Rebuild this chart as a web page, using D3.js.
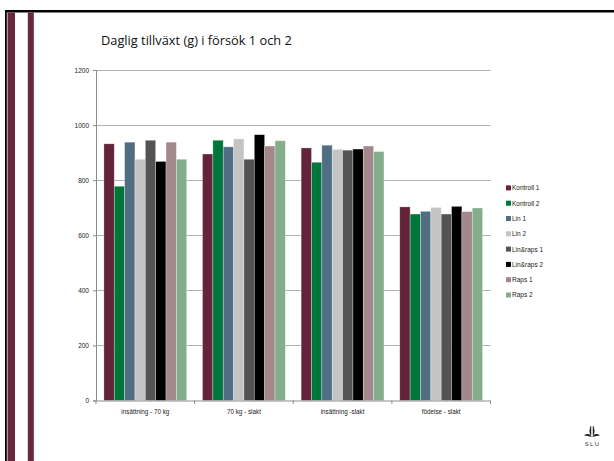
<!DOCTYPE html>
<html><head><meta charset="utf-8">
<script src="https://cdn.jsdelivr.net/npm/d3@7"></script>
<style>
html,body{margin:0;padding:0;background:#fff;}
svg{display:block;font-family:"Liberation Sans","DejaVu Sans",sans-serif;}
</style></head>
<body>
<script>
const categories = ["insättning - 70 kg", "70 kg - slakt", "insättning -slakt", "födelse - slakt"];
const seriesNames = ["Kontroll 1", "Kontroll 2", "Lin 1", "Lin 2", "Lin&raps 1", "Lin&raps 2", "Raps 1", "Raps 2"];
const seriesColors = ["#632339", "#00773A", "#4F6E84", "#C4C4C4", "#535353", "#000000", "#A4878A", "#84AE8B"];
const kontroll1 = [932, 895, 917, 703];
const kontroll2 = [778, 945, 865, 677];
const lin1 = [938, 921, 927, 687];
const lin2 = [876, 950, 912, 701];
const linraps1 = [945, 876, 909, 677];
const linraps2 = [868, 965, 913, 705];
const raps1 = [938, 924, 924, 686];
const raps2 = [876, 943, 904, 699];
const yTicks = [0, 200, 400, 600, 800, 1000, 1200];
const title = "Daglig tillväxt (g) i försök 1 och 2";

const seriesValues = [kontroll1, kontroll2, lin1, lin2, linraps1, linraps2, raps1, raps2];

const W = 614, H = 461;
const svg = d3.select("body").append("svg").attr("width", W).attr("height", H);

// slide decorations
const maroon = "#6B263F";
svg.append("rect").attr("x", 5).attr("y", 10).attr("width", W - 5).attr("height", 2.5).attr("fill", "#000");
svg.append("rect").attr("x", 5).attr("y", 10).attr("width", 1.8).attr("height", H - 10).attr("fill", "#000");
svg.append("rect").attr("x", 7.5).attr("y", 12.5).attr("width", 7.5).attr("height", H).attr("fill", maroon);
svg.append("rect").attr("x", 27.8).attr("y", 12.5).attr("width", 6).attr("height", H).attr("fill", maroon);

// title
svg.append("text").attr("x", 101).attr("y", 45).attr("font-size", 12.8).attr("fill", "#111")
  .attr("font-family", "'Open Sans','Liberation Sans',sans-serif")
  .text(title);

const pLeft = 96, pRight = 490.5, pTop = 70, pBottom = 400.5;
const y = d3.scaleLinear().domain([0, 1200]).range([pBottom, pTop]);
const x0 = d3.scaleBand().domain(categories).range([pLeft, pRight]);
const gapFrac = 0.08;
const x1 = d3.scaleBand().domain(seriesNames)
  .range([x0.bandwidth() * gapFrac, x0.bandwidth() * (1 - gapFrac)]);

// gridlines
svg.append("g").selectAll("line").data(yTicks.filter(d => d > 0)).join("line")
  .attr("x1", pLeft).attr("x2", pRight)
  .attr("y1", d => Math.round(y(d)) + 0.5).attr("y2", d => Math.round(y(d)) + 0.5)
  .attr("stroke", "#b3b3b3").attr("stroke-width", 1);

// bars
const groups = svg.append("g").selectAll("g").data(categories).join("g")
  .attr("transform", c => `translate(${x0(c)},0)`);
groups.selectAll("rect").data((c, ci) => seriesNames.map((s, si) => ({s, si, v: seriesValues[si][ci]})))
  .join("rect")
  .attr("x", d => x1(d.s)).attr("width", x1.bandwidth())
  .attr("y", d => y(d.v)).attr("height", d => y(0) - y(d.v))
  .attr("fill", d => seriesColors[d.si])
  .attr("stroke", "rgba(255,255,255,0.5)").attr("stroke-width", 0.6);

// y axis
const yAxis = d3.axisLeft(y).tickValues(yTicks).tickFormat(d3.format("d")).tickSize(3).tickPadding(4);
const gy = svg.append("g").attr("transform", `translate(${pLeft},0)`).call(yAxis);
gy.select(".domain").attr("stroke", "#8c8c8c");
gy.selectAll(".tick line").attr("stroke", "#8c8c8c");
gy.selectAll(".tick text").attr("font-size", 6.5).attr("fill", "#222").attr("font-family", "'Liberation Sans',sans-serif");

// x axis
const gx = svg.append("g").attr("transform", `translate(0,${pBottom})`)
  .call(d3.axisBottom(x0).tickSize(0).tickPadding(9));
gx.select(".domain").attr("stroke", "#8c8c8c");
gx.selectAll(".tick text").attr("font-size", 6.3).attr("fill", "#222");
// category separator ticks
const sepPos = categories.map(c => x0(c)).concat([pRight]);
svg.append("g").selectAll("line").data(sepPos).join("line")
  .attr("x1", d => d).attr("x2", d => d).attr("y1", pBottom).attr("y2", pBottom + 3.5)
  .attr("stroke", "#8c8c8c");

// legend
const leg = svg.append("g").attr("transform", "translate(506,188)");
const li = leg.selectAll("g").data(seriesNames).join("g")
  .attr("transform", (d, i) => `translate(0,${i * 15.3})`);
li.append("rect").attr("x", 0).attr("y", -2.6).attr("width", 5).attr("height", 5)
  .attr("fill", (d, i) => seriesColors[i]);
li.append("text").attr("x", 6).attr("y", 2.3).attr("font-size", 6.5).attr("fill", "#222").text(d => d);

// SLU logo
const logo = svg.append("g").attr("transform", "translate(592,432)");
logo.append("path").attr("d", "M-1.4,-6 C-3,-2 -3,1.5 -0.8,4 L-0.8,-6 Z M1.4,-6 C3,-2 3,1.5 0.8,4 L0.8,-6 Z").attr("fill", "#222");
logo.append("path").attr("d", "M-8,3.5 C-4.5,1 -1.5,2 -0.4,5 C-3,4 -5.5,4 -8,3.5 Z M8,3.5 C4.5,1 1.5,2 0.4,5 C3,4 5.5,4 8,3.5 Z").attr("fill", "#222");
logo.append("text").attr("x", 0.6).attr("y", 14).attr("text-anchor", "middle")
  .attr("font-size", 6).attr("letter-spacing", 1.3).attr("fill", "#333").text("SLU");
</script>
</body></html>
